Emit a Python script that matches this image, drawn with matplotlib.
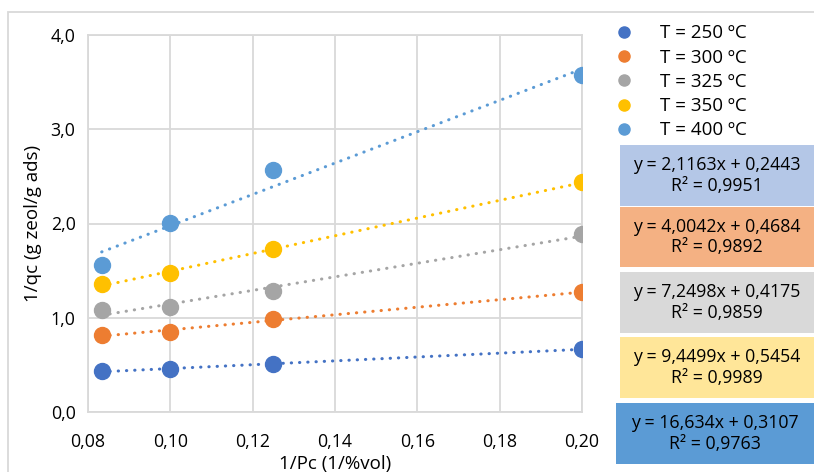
import numpy as np
import matplotlib.pyplot as plt
from matplotlib.patches import Rectangle
from matplotlib.lines import Line2D

plt.rcParams["font.family"] = ["Open Sans", "DejaVu Sans"]

# data
inv_pc = [1 / 12, 1 / 10, 1 / 8, 1 / 5]
labels = ["T = 250 ºC", "T = 300 ºC", "T = 325 ºC", "T = 350 ºC", "T = 400 ºC"]
q_250 = [0.435, 0.456, 0.506, 0.668]
q_300 = [0.817, 0.846, 0.987, 1.27]
q_325 = [1.079, 1.117, 1.284, 1.885]
q_350 = [1.355, 1.475, 1.726, 2.437]
q_400 = [1.56, 2.005, 2.568, 3.572]
series = [q_250, q_300, q_325, q_350, q_400]
colors = ["#4472C4", "#ED7D31", "#A5A5A5", "#FFC000", "#5B9BD5"]

equations = ["y = 2,1163x + 0,2443\nR² = 0,9951",
             "y = 4,0042x + 0,4684\nR² = 0,9892",
             "y = 7,2498x + 0,4175\nR² = 0,9859",
             "y = 9,4499x + 0,5454\nR² = 0,9989",
             "y = 16,634x + 0,3107\nR² = 0,9763"]
box_colors = ["#B4C7E7", "#F4B183", "#D9D9D9", "#FFE699", "#5B9BD5"]

W, H = 814, 472
fig = plt.figure(figsize=(W / 100, H / 100), dpi=100)
ax = fig.add_axes([88 / W, 1 - 412 / H, 494 / W, 377 / H])

# outer chart border
fig.patches.append(Rectangle((8 / W, -0.1), 1.2, 1 - 12 / H + 0.1,
                             transform=fig.transFigure, fill=False,
                             edgecolor="#D9D9D9", lw=1.3, clip_on=False))

xs = np.array(inv_pc)
for ys, c in zip(series, colors):
    k, b = np.polyfit(xs, ys, 1)
    xf = np.array([xs[0], xs[-1]])
    ax.plot(xf, k * xf + b, color=c, lw=2.2, linestyle=(0, (0.1, 2.6)),
            dash_capstyle="round", zorder=2)
    ax.plot(xs, ys, "o", color=c, ms=11.5, mec=c, zorder=3)

ax.set_xlim(0.08, 0.20)
ax.set_ylim(0, 4)
ax.set_xticks(np.arange(0.08, 0.2001, 0.02))
ax.set_yticks(np.arange(0, 4.01, 1))
ax.set_xticklabels([f"{v:.2f}".replace(".", ",") for v in np.arange(0.08, 0.2001, 0.02)])
ax.set_yticklabels([f"{v:.1f}".replace(".", ",") for v in np.arange(0, 4.01, 1)])
ax.grid(color="#D9D9D9", lw=1.3)
ax.set_axisbelow(True)
for s in ax.spines.values():
    s.set_color("#D9D9D9")
    s.set_linewidth(1.3)
ax.tick_params(length=0, labelsize=12.8, colors="#000000", pad=9)
ax.tick_params(axis="x", pad=15)
ax.set_xlabel("1/Pc (1/%vol)", fontsize=13.5, labelpad=3)
ax.set_ylabel("1/qc (g zeol/g ads)", fontsize=13.5, labelpad=6)

handles = [Line2D([], [], marker="o", ls="", color=c, ms=8) for c in colors]
fig.legend(handles, labels, loc="upper left", bbox_to_anchor=(607 / W, 1 - 17 / H),
           frameon=False, fontsize=13.5, handletextpad=1.45, labelspacing=0.33,
           borderaxespad=0, handlelength=1.0)

# equation boxes
boxes = [(620, 145, 206), (620, 207, 267), (620, 272, 333), (620, 337, 398), (616, 403, 464)]
for (x0, y0, y1), txt, bc in zip(boxes, equations, box_colors):
    fig.patches.append(Rectangle((x0 / W, 1 - y1 / H), (W - x0) / W, (y1 - y0) / H,
                                 transform=fig.transFigure, facecolor=bc,
                                 edgecolor="none", zorder=1))
    fig.text((x0 + W) / 2 / W, 1 - (y0 + y1) / 2 / H, txt, ha="center", va="center",
             fontsize=12.8, linespacing=1.15, zorder=2)

fig.savefig("out.png", dpi=100)
